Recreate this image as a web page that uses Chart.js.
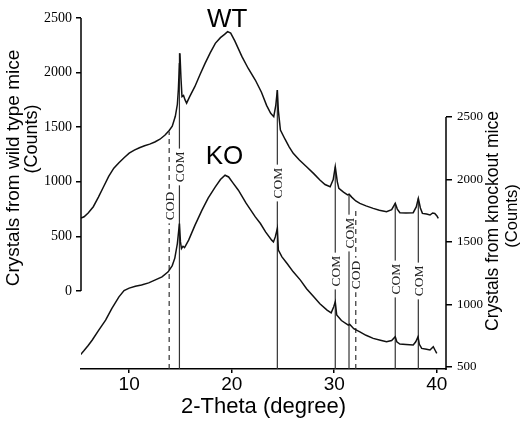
<!DOCTYPE html>
<html>
<head>
<meta charset="utf-8">
<script src="https://cdn.jsdelivr.net/npm/chart.js@4.4.0/dist/chart.umd.min.js"></script>
<style>
  html, body { margin: 0; padding: 0; background: #fff; }
  #wrap { width: 522px; height: 421px; }
</style>
</head>
<body>
<div id="wrap"><canvas id="xrd" width="522" height="421"></canvas></div>
<script>
// ---------- data ----------
const wtTheta = [5.3, 5.6, 6.0, 6.5, 7.0, 7.5, 8.0, 8.5, 9.0, 9.5, 10.0, 10.5, 11.0, 11.5, 12.0, 12.5, 13.0, 13.5, 13.9, 14.2,
  14.5, 14.7, 14.8, 14.9, 14.95, 15.05, 15.15, 15.3, 15.45, 15.6, 15.9, 16.4, 16.9, 17.4, 17.9, 18.4, 18.9, 19.3, 19.6, 19.9,
  20.3, 21.0, 21.6, 22.3, 22.9, 23.4, 23.8, 24.1, 24.3, 24.45, 24.55, 24.75, 25.2, 25.6, 26.0, 26.6, 27.3, 28.0, 28.6, 29.1,
  29.6, 29.9, 30.1, 30.3, 30.45, 30.9, 31.3, 31.45, 31.7, 32.1, 32.5, 33.1, 33.8, 34.4, 35.1, 35.6, 35.95, 36.15, 36.4, 37.0,
  37.7, 38.0, 38.2, 38.4, 38.6, 39.0, 39.34, 39.6, 39.8, 40.0, 40.15];
const wtCounts = [668, 680, 715, 772, 860, 955, 1050, 1125, 1175, 1220, 1262, 1290, 1312, 1330, 1345, 1365, 1390, 1428, 1470, 1510,
  1600, 1710, 1850, 2080, 2177, 1950, 1780, 1790, 1750, 1720, 1780, 1871, 1980, 2085, 2180, 2268, 2320, 2350, 2375, 2362,
  2290, 2146, 2040, 1932, 1820, 1700, 1627, 1596, 1700, 1841, 1650, 1474, 1390, 1320, 1261, 1200, 1138, 1075, 1016, 975,
  955, 1020, 1138, 1000, 940, 905, 880, 887, 860, 825, 803, 780, 757, 740, 726, 745, 803, 750, 717, 715,
  717, 770, 849, 760, 711, 705, 696, 715, 711, 690, 666];

const koTheta = [5.22, 5.6, 6.0, 6.4, 7.0, 7.7, 8.3, 9.0, 9.5, 10.0, 10.6, 11.2, 11.9, 12.5, 13.2, 13.8, 14.2, 14.45, 14.7, 14.9,
  15.0, 15.1, 15.25, 15.4, 15.8, 16.4, 17.1, 17.7, 18.4, 18.9, 19.35, 19.7, 20.1, 20.65, 21.4, 22.3, 22.8, 23.3, 23.9, 24.07,
  24.25, 24.45, 24.55, 24.9, 25.4, 26.0, 26.7, 27.3, 28.0, 28.6, 29.3, 29.7, 29.95, 30.1, 30.24, 30.7, 31.37, 31.5, 31.9, 32.5,
  33.1, 33.8, 34.5, 35.1, 35.6, 35.95, 36.1, 36.4, 37.0, 37.7, 37.95, 38.17, 38.3, 38.53, 39.0, 39.34, 39.66, 39.85, 40.0];
const koCounts = [594, 630, 670, 714, 790, 874, 965, 1060, 1110, 1130, 1145, 1154, 1172, 1194, 1220, 1260, 1310, 1370, 1487, 1647,
  1500, 1447, 1465, 1455, 1514, 1630, 1754, 1850, 1940, 2000, 2034, 2020, 1975, 1914, 1810, 1700, 1647, 1580, 1514, 1500,
  1540, 1607, 1434, 1380, 1327, 1260, 1194, 1125, 1060, 1005, 954, 932, 980, 1020, 914, 870, 834, 840, 805, 780,
  752, 727, 712, 700, 710, 740, 700, 682, 678, 674, 700, 740, 680, 647, 640, 634, 660, 630, 607];

// marker lines for the crystal phases
const refTheta = [13.9, 14.9, 24.45, 30.1, 31.44, 32.1, 35.95, 38.2];
const refPhase = ["COD", "COM", "COM", "COM", "COM", "COD", "COM", "COM"];
const refTop = [1460, 2177, 1841, 1138, 885, 760, 803, 849];   // where each line meets the WT trace (left-axis counts)
const refLabelAt = [778, 1136, 989, 183, 531, 147, 110, 92];   // label centre (left-axis counts)

const leftTicks = [0, 500, 1000, 1500, 2000, 2500];
const rightTicks = [500, 1000, 1500, 2000, 2500];
const thetaTicks = [10, 20, 30, 40];

const SANS = "'Liberation Sans', Arial, sans-serif";
const SERIF = "'Liberation Serif', 'Times New Roman', serif";
const LEFT_MIN = -714;

const toPoints = (xs, ys) => xs.map((v, i) => ({ x: v, y: ys[i] }));
const plain = (v) => String(v);

// ---------- extra drawing: partial axis lines, phase labels, titles ----------
function rotText(ctx, text, x, y) {
  ctx.save();
  ctx.translate(x, y);
  ctx.rotate(-Math.PI / 2);
  ctx.fillText(text, 0, 0);
  ctx.restore();
}

const decorations = {
  id: "decorations",
  afterDatasetsDraw(chart) {
    const { ctx, scales } = chart;
    const x = scales.x, yL = scales.yWT, yR = scales.yKO;
    ctx.save();

    // axis spines that only cover part of the plot height
    ctx.strokeStyle = "#000";
    ctx.lineWidth = 1.5;
    ctx.beginPath();
    ctx.moveTo(yL.right, yL.getPixelForValue(0));
    ctx.lineTo(yL.right, yL.getPixelForValue(2500));
    ctx.moveTo(yR.left, yR.getPixelForValue(2500));
    ctx.lineTo(yR.left, yR.getPixelForValue(yR.min) + 1);
    ctx.stroke();

    // COM / COD labels sitting on the marker lines
    ctx.font = "13.5px " + SERIF;
    ctx.textAlign = "center";
    ctx.textBaseline = "middle";
    refTheta.forEach((t, i) => {
      const px = x.getPixelForValue(t);
      const py = yL.getPixelForValue(refLabelAt[i]);
      const w = ctx.measureText(refPhase[i]).width;
      ctx.save();
      ctx.translate(px, py);
      ctx.rotate(-Math.PI / 2);
      ctx.fillStyle = "#fff";
      ctx.fillRect(-w / 2 - 3, -5, w + 6, 10);
      ctx.fillStyle = "#222";
      ctx.fillText(refPhase[i], 0, 1);
      ctx.restore();
    });

    // trace names
    ctx.fillStyle = "#000";
    ctx.font = "26px " + SANS;
    ctx.fillText("WT", x.getPixelForValue(19.55), yL.getPixelForValue(2486));
    ctx.fillText("KO", x.getPixelForValue(19.3), yL.getPixelForValue(1227));

    // y axis titles
    ctx.font = "19px " + SANS;
    rotText(ctx, "Crystals from wild type mice", 14, 168);
    ctx.font = "18px " + SANS;
    rotText(ctx, "(Counts)", 32, 139);
    ctx.font = "17.5px " + SANS;
    rotText(ctx, "Crystals from knockout mice", 493, 221);
    ctx.font = "16.5px " + SANS;
    rotText(ctx, "(Counts)", 512, 216);

    ctx.restore();
  }
};

// ---------- datasets ----------
const datasets = [
  { label: "WT", data: toPoints(wtTheta, wtCounts), yAxisID: "yWT", borderColor: "#111", borderWidth: 1.5, pointRadius: 0, tension: 0 },
  { label: "KO", data: toPoints(koTheta, koCounts), yAxisID: "yKO", borderColor: "#111", borderWidth: 1.5, pointRadius: 0, tension: 0 }
];
refTheta.forEach((t, i) => {
  datasets.push({
    label: refPhase[i],
    data: [{ x: t, y: LEFT_MIN }, { x: t, y: refTop[i] }],
    yAxisID: "yWT",
    borderColor: "#333",
    borderWidth: 1.2,
    borderDash: refPhase[i] === "COD" ? [5, 4] : [],
    pointRadius: 0
  });
});

const tickGrid = { display: true, drawOnChartArea: false, drawTicks: true, color: "#000", lineWidth: 1.5 };

new Chart(document.getElementById("xrd"), {
  type: "line",
  data: { datasets },
  plugins: [decorations],
  options: {
    responsive: false,
    animation: false,
    layout: { padding: { top: 18, left: 0, right: 0, bottom: 0 } },
    plugins: { legend: { display: false }, tooltip: { enabled: false } },
    scales: {
      x: {
        type: "linear",
        min: 5.3,
        max: 40.9,
        afterBuildTicks: (s) => { s.ticks = thetaTicks.map(v => ({ value: v })); },
        afterFit: (s) => { s.height = 52; },
        ticks: { font: { family: SANS, size: 19 }, color: "#000", padding: 0, maxRotation: 0, autoSkip: false, callback: plain },
        grid: { ...tickGrid, tickLength: 4 },
        border: { display: true, color: "#000", width: 1.5 },
        title: { display: true, text: "2-Theta (degree)", font: { family: SANS, size: 22 }, color: "#000", padding: { top: 0, bottom: 1 } }
      },
      yWT: {
        position: "left",
        min: LEFT_MIN,
        max: 2500,
        afterBuildTicks: (s) => { s.ticks = leftTicks.map(v => ({ value: v })); },
        afterFit: (s) => { s.width = 81; },
        ticks: { font: { family: SERIF, size: 14 }, color: "#000", padding: 4, autoSkip: false, callback: plain },
        grid: { ...tickGrid, tickLength: 5 },
        border: { display: false }
      },
      yKO: {
        position: "right",
        min: 482,
        max: 3293,
        afterBuildTicks: (s) => { s.ticks = rightTicks.map(v => ({ value: v })); },
        afterFit: (s) => { s.width = 76; },
        ticks: { font: { family: SERIF, size: 13 }, color: "#000", padding: 5, autoSkip: false, callback: plain },
        grid: { ...tickGrid, tickLength: 6 },
        border: { display: false }
      }
    }
  }
});
</script>
</body>
</html>
